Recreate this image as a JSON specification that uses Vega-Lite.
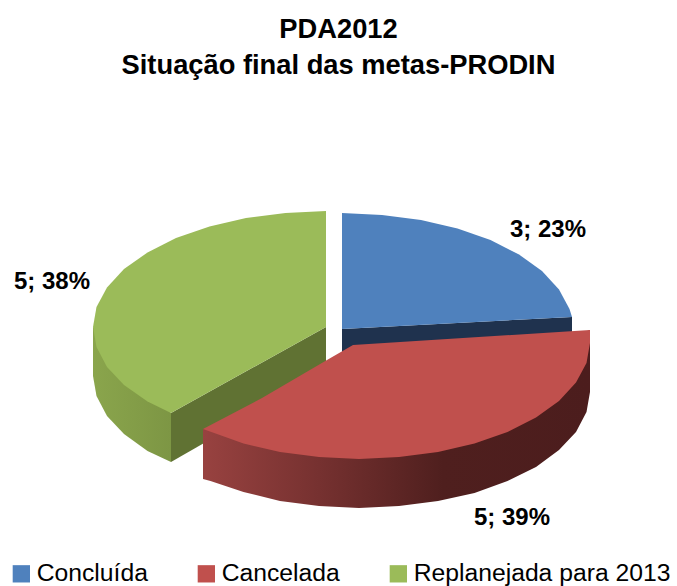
{
"$schema":"https://vega.github.io/schema/vega-lite/v6.json",
"width":677,"height":586,"padding":0,"autosize":{"type":"none"},
"background":"white",
"title":{"text":["PDA2012","Situação final das metas-PRODIN"],"font":"Liberation Sans","fontSize":27.3,"fontWeight":"bold","color":"#000000","lineHeight":36,"anchor":"middle","baseline":"top","dy":79,"offset":0},
"config":{"view":{"stroke":null}},
"datasets":{
"outline":[
{"part":"blueWall","ord":1,"x":342,"y":329},{"part":"blueWall","ord":2,"x":572,"y":317},{"part":"blueWall","ord":3,"x":572,"y":335},{"part":"blueWall","ord":4,"x":342,"y":357},
{"part":"greenOuter","ord":1,"x":93,"y":327},{"part":"greenOuter","ord":2,"x":93,"y":376},{"part":"greenOuter","ord":3,"x":96.5,"y":396},{"part":"greenOuter","ord":4,"x":107,"y":416},{"part":"greenOuter","ord":5,"x":124,"y":434},{"part":"greenOuter","ord":6,"x":147.5,"y":451},{"part":"greenOuter","ord":7,"x":171,"y":462},{"part":"greenOuter","ord":8,"x":171,"y":413},
{"part":"greenInner","ord":1,"x":171,"y":413},{"part":"greenInner","ord":2,"x":326,"y":327},{"part":"greenInner","ord":3,"x":326,"y":373},{"part":"greenInner","ord":4,"x":171,"y":462},
{"part":"redWall","ord":1,"x":590,"y":330},{"part":"redWall","ord":2,"x":590,"y":392},{"part":"redWall","ord":3,"x":586.5,"y":412},{"part":"redWall","ord":4,"x":576,"y":432},{"part":"redWall","ord":5,"x":559,"y":450},{"part":"redWall","ord":6,"x":536,"y":467},{"part":"redWall","ord":7,"x":507.5,"y":481},{"part":"redWall","ord":8,"x":474.5,"y":493},{"part":"redWall","ord":9,"x":438,"y":501},{"part":"redWall","ord":10,"x":399,"y":506},{"part":"redWall","ord":11,"x":359,"y":508},{"part":"redWall","ord":12,"x":319,"y":506},{"part":"redWall","ord":13,"x":280,"y":501},{"part":"redWall","ord":14,"x":243.5,"y":492},{"part":"redWall","ord":15,"x":210.5,"y":481},{"part":"redWall","ord":16,"x":203,"y":479},{"part":"redWall","ord":17,"x":203,"y":429},{"part":"redWall","ord":18,"x":400,"y":400},
{"part":"top","slice":"Concluída","ord":1,"x":342,"y":213},{"part":"top","slice":"Concluída","ord":2,"x":382,"y":215},{"part":"top","slice":"Concluída","ord":3,"x":421,"y":220},{"part":"top","slice":"Concluída","ord":4,"x":457.5,"y":228.5},{"part":"top","slice":"Concluída","ord":5,"x":490.5,"y":240},{"part":"top","slice":"Concluída","ord":6,"x":519,"y":254.5},{"part":"top","slice":"Concluída","ord":7,"x":542,"y":271},{"part":"top","slice":"Concluída","ord":8,"x":559,"y":289.5},{"part":"top","slice":"Concluída","ord":9,"x":569.5,"y":309},{"part":"top","slice":"Concluída","ord":10,"x":572,"y":317},{"part":"top","slice":"Concluída","ord":11,"x":342,"y":329},
{"part":"top","slice":"Cancelada","ord":1,"x":590,"y":330},{"part":"top","slice":"Cancelada","ord":2,"x":590,"y":343},{"part":"top","slice":"Cancelada","ord":3,"x":586.5,"y":363},{"part":"top","slice":"Cancelada","ord":4,"x":576,"y":382.5},{"part":"top","slice":"Cancelada","ord":5,"x":559,"y":401},{"part":"top","slice":"Cancelada","ord":6,"x":536,"y":417.5},{"part":"top","slice":"Cancelada","ord":7,"x":507.5,"y":432},{"part":"top","slice":"Cancelada","ord":8,"x":474.5,"y":443.5},{"part":"top","slice":"Cancelada","ord":9,"x":438,"y":452},{"part":"top","slice":"Cancelada","ord":10,"x":399,"y":457},{"part":"top","slice":"Cancelada","ord":11,"x":359,"y":459},{"part":"top","slice":"Cancelada","ord":12,"x":319,"y":457},{"part":"top","slice":"Cancelada","ord":13,"x":280,"y":452},{"part":"top","slice":"Cancelada","ord":14,"x":243.5,"y":443.5},{"part":"top","slice":"Cancelada","ord":15,"x":203,"y":429},{"part":"top","slice":"Cancelada","ord":16,"x":262,"y":398},{"part":"top","slice":"Cancelada","ord":17,"x":327,"y":360},{"part":"top","slice":"Cancelada","ord":18,"x":353,"y":345},
{"part":"top","slice":"Replanejada para 2013","ord":1,"x":326,"y":211},{"part":"top","slice":"Replanejada para 2013","ord":2,"x":285.5,"y":213},{"part":"top","slice":"Replanejada para 2013","ord":3,"x":246,"y":218},{"part":"top","slice":"Replanejada para 2013","ord":4,"x":209.5,"y":226.5},{"part":"top","slice":"Replanejada para 2013","ord":5,"x":176,"y":238},{"part":"top","slice":"Replanejada para 2013","ord":6,"x":147.5,"y":252.5},{"part":"top","slice":"Replanejada para 2013","ord":7,"x":124,"y":269},{"part":"top","slice":"Replanejada para 2013","ord":8,"x":107,"y":287.5},{"part":"top","slice":"Replanejada para 2013","ord":9,"x":96.5,"y":307},{"part":"top","slice":"Replanejada para 2013","ord":10,"x":93,"y":327},{"part":"top","slice":"Replanejada para 2013","ord":11,"x":96.5,"y":347},{"part":"top","slice":"Replanejada para 2013","ord":12,"x":107,"y":367},{"part":"top","slice":"Replanejada para 2013","ord":13,"x":124,"y":385},{"part":"top","slice":"Replanejada para 2013","ord":14,"x":147.5,"y":401.5},{"part":"top","slice":"Replanejada para 2013","ord":15,"x":171,"y":413},{"part":"top","slice":"Replanejada para 2013","ord":16,"x":326,"y":327}
],
"labels":[{"label":"3; 23%","x":548,"y":230},{"label":"5; 38%","x":52,"y":282},{"label":"5; 39%","x":512,"y":518}]
},
"encoding":{
"x":{"field":"x","type":"quantitative","scale":{"domain":[0,677],"nice":false,"zero":false},"axis":null},
"y":{"field":"y","type":"quantitative","scale":{"domain":[586,0],"nice":false,"zero":false},"axis":null}
},
"layer":[
{"data":{"name":"outline"},"transform":[{"filter":"datum.part==='blueWall'"}],"mark":{"type":"line","fill":"#1f324e","stroke":null},"encoding":{"order":{"field":"ord","type":"quantitative"}}},
{"data":{"name":"outline"},"transform":[{"filter":"datum.part==='greenOuter'"}],"mark":{"type":"line","stroke":null,"fill":{"gradient":"linear","x1":0,"y1":0,"x2":1,"y2":0,"stops":[{"offset":0,"color":"#8aa54c"},{"offset":1,"color":"#7d9644"}]}},"encoding":{"order":{"field":"ord","type":"quantitative"}}},
{"data":{"name":"outline"},"transform":[{"filter":"datum.part==='greenInner'"}],"mark":{"type":"line","fill":"#607233","stroke":null},"encoding":{"order":{"field":"ord","type":"quantitative"}}},
{"data":{"name":"outline"},"transform":[{"filter":"datum.part==='redWall'"}],"mark":{"type":"line","stroke":null,"fill":{"gradient":"linear","x1":0,"y1":0,"x2":1,"y2":0,"stops":[{"offset":0,"color":"#984240"},{"offset":0.3,"color":"#763130"},{"offset":0.62,"color":"#4f1f1e"},{"offset":1,"color":"#4c1d1d"}]}},"encoding":{"order":{"field":"ord","type":"quantitative"}}},
{"data":{"name":"outline"},"transform":[{"filter":"datum.part==='top'"}],"mark":{"type":"line","stroke":null},"encoding":{"order":{"field":"ord","type":"quantitative"},
"fill":{"field":"slice","type":"nominal","scale":{"domain":["Concluída","Cancelada","Replanejada para 2013"],"range":["#4f81bd","#c0504d","#9bbb59"]},
"legend":{"title":null,"orient":"none","legendX":9,"legendY":561,"direction":"horizontal","columns":3,"columnPadding":46,"symbolType":"square","symbolSize":300,"symbolStrokeWidth":0,"labelFont":"Liberation Sans","labelFontSize":24.7,"labelColor":"#000000","labelLimit":300,"labelOffset":3,"symbolOpacity":1}}}},
{"data":{"name":"labels"},"mark":{"type":"text","font":"Liberation Sans","fontSize":24,"fontWeight":"bold","color":"#000000","align":"center","baseline":"middle"},"encoding":{"text":{"field":"label","type":"nominal"}}}
]
}
